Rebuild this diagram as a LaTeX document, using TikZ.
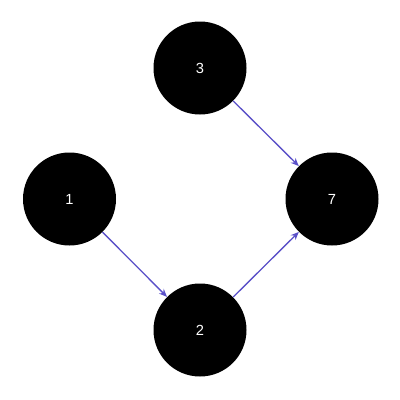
\documentclass[tikz,border=0pt]{standalone}
\usepackage{fontspec}
\setmainfont{Liberation Sans}
\usetikzlibrary{arrows.meta}
\begin{document}
\begin{tikzpicture}[x=0.75pt,y=-0.75pt,
  vert/.style={circle,fill=black,minimum size=69.75pt,inner sep=0pt,text=white,font=\fontsize{11}{13}\selectfont},
  edge/.style={draw={rgb,255:red,90;green,80;blue,200},line width=1pt,-{Stealth[length=6pt,width=5pt]}}]
\useasboundingbox (0,0) rectangle (400,400);
\node[vert] (n1) at (69.5,199) {1};
\node[vert] (n3) at (200,68) {3};
\node[vert] (n7) at (332,199) {7};
\node[vert] (n2) at (200,330) {2};
\draw[edge] (n1) -- (n2);
\draw[edge] (n2) -- (n7);
\draw[edge] (n3) -- (n7);
\end{tikzpicture}
\end{document}
